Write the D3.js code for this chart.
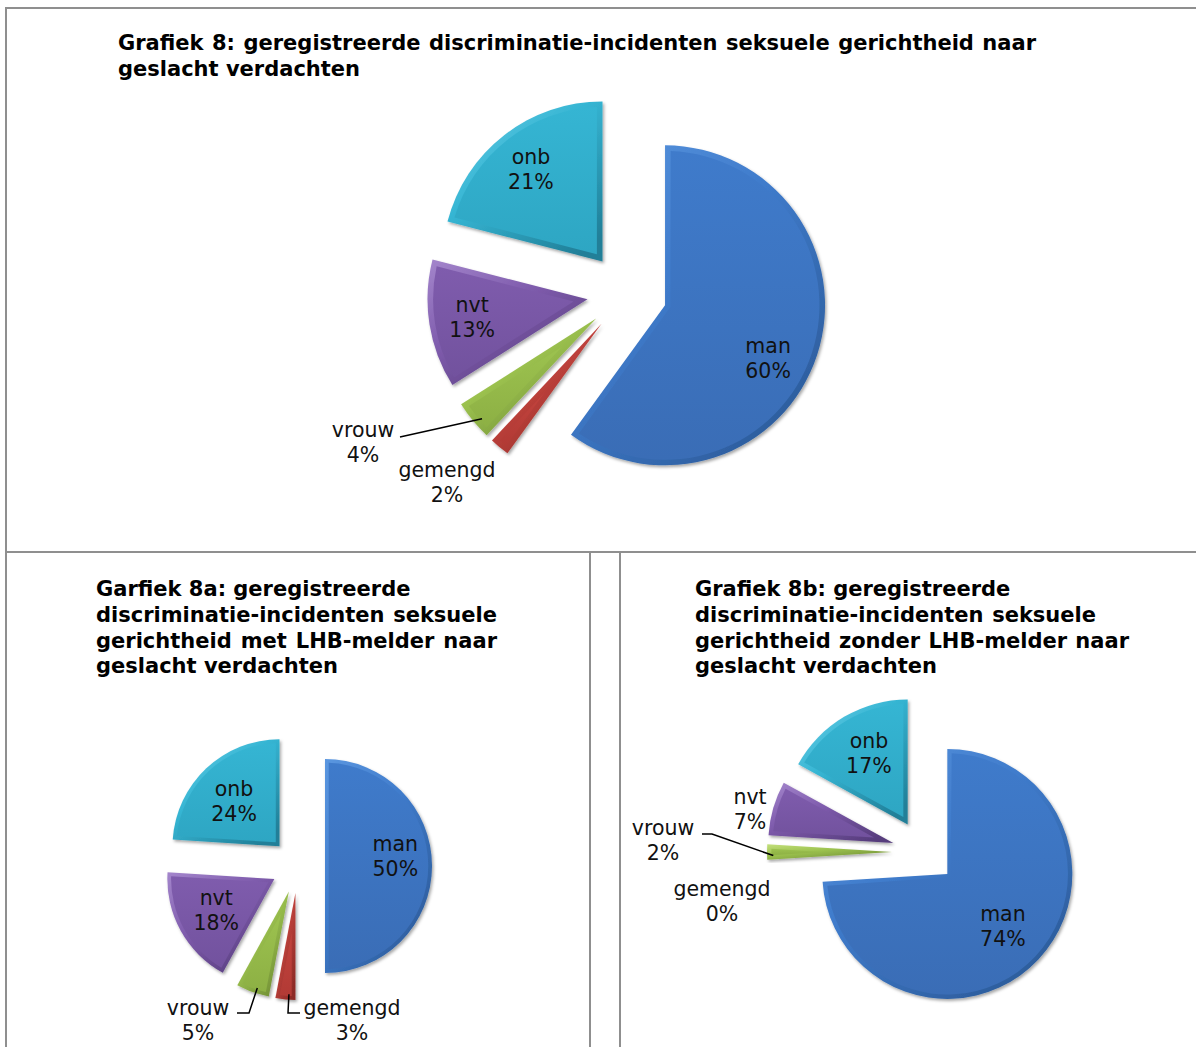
<!DOCTYPE html>
<html>
<head>
<meta charset="utf-8">
<script src="https://cdn.jsdelivr.net/npm/d3@7"></script>
<style>
  body { margin: 0; background: #fff; }
  svg { display: block; }
  text { font-family: 'DejaVu Sans', Verdana, sans-serif; }
</style>
</head>
<body>
<svg id="chart" width="1196" height="1047"></svg>
<script>
// data
const categories = ['man', 'gemengd', 'vrouw', 'nvt', 'onb']
const values8 = [60, 2, 4, 13, 21]
const values8a = [50, 3, 5, 18, 24]
const values8b = [74, 0, 2, 7, 17]

const title8 = [
  'Grafiek 8: geregistreerde discriminatie-incidenten seksuele gerichtheid naar',
  'geslacht verdachten',
]
const title8a = [
  'Garfiek 8a: geregistreerde',
  'discriminatie-incidenten seksuele',
  'gerichtheid met LHB-melder naar',
  'geslacht verdachten',
]
const title8b = [
  'Grafiek 8b: geregistreerde',
  'discriminatie-incidenten seksuele',
  'gerichtheid zonder LHB-melder naar',
  'geslacht verdachten',
]

// office-like palette with bevel tones
const palette = {
  man: { light: '#5b97e0', base: '#3f7bcb', low: '#3a6db6', dark: '#2b5a98' },
  gemengd: { light: '#e0726c', base: '#c2433d', low: '#b23a35', dark: '#8c2a26' },
  vrouw: { light: '#c4e07c', base: '#9cc24f', low: '#8db044', dark: '#6d8a32' },
  nvt: { light: '#a486cc', base: '#7f5cad', low: '#72529e', dark: '#563c7c' },
  onb: { light: '#6fd0e8', base: '#35b5d3', low: '#2ea6c3', dark: '#217f98' },
}

// layout of the three panels (positions relative to each pie centre)
const charts = [
  {
    values: values8, title: title8, tx: 118, ty: 50,
    tw: [918, null],
    cx: 627, cy: 293, r: 160, explode: 40, labelK: 0.73,
    nudge: { man: [-8, 17] },
    outside: {
      vrouw: { pos: [-264, 149.5], leader: [[-227, 144]] },
      gemengd: { pos: [-180, 189.5] },
    },
  },
  {
    values: values8a, title: title8a, tx: 96, ty: 596,
    tw: [311, 401, 401, null],
    cx: 298, cy: 866, r: 107, explode: 27, labelK: 0.62,
    nudge: { man: [4, -10], onb: [0, 4] },
    outside: {
      vrouw: { pos: [-100, 154], leader: [[-61, 147], [-49, 147]] },
      gemengd: { pos: [54, 154], leader: [[2, 147], [-10, 147]] },
    },
  },
  {
    values: values8b, title: title8b, tx: 695, ty: 596,
    tw: [311, 401, 434, null],
    cx: 924, cy: 852, r: 125, explode: 32, labelK: 0.61,
    nudge: { onb: [0, -5] },
    outside: {
      vrouw: { pos: [-261, -12], leader: [[-222, -18], [-212, -18]] },
      nvt: { pos: [-174, -42.5] },
      gemengd: { pos: [-202, 49.5] },
    },
  },
]

const svg = d3.select('#chart')
const defs = svg.append('defs')

// gradients
categories.forEach((c) => {
  const p = palette[c]
  const rim = defs.append('linearGradient').attr('id', 'rim-' + c)
    .attr('x1', 0).attr('y1', 0).attr('x2', 0.8).attr('y2', 1)
  rim.append('stop').attr('offset', '0%').attr('stop-color', p.light)
  rim.append('stop').attr('offset', '45%').attr('stop-color', p.base)
  rim.append('stop').attr('offset', '100%').attr('stop-color', p.dark)
  const fill = defs.append('linearGradient').attr('id', 'fill-' + c)
    .attr('x1', 0).attr('y1', 0).attr('x2', 0).attr('y2', 1)
  fill.append('stop').attr('offset', '0%').attr('stop-color', p.base)
  fill.append('stop').attr('offset', '100%').attr('stop-color', p.low)
})

const shadow = defs.append('filter').attr('id', 'shadow')
  .attr('x', '-20%').attr('y', '-20%').attr('width', '140%').attr('height', '140%')
shadow.append('feDropShadow').attr('dx', 1.5).attr('dy', 2)
  .attr('stdDeviation', 1.8).attr('flood-color', '#000').attr('flood-opacity', 0.35)

// table borders
const borders = svg.append('g').attr('stroke', '#8f8f8f').attr('stroke-width', 2)
borders.append('line').attr('x1', 6).attr('x2', 1196).attr('y1', 8).attr('y2', 8)
borders.append('line').attr('x1', 6).attr('x2', 6).attr('y1', 7).attr('y2', 1047)
borders.append('line').attr('x1', 6).attr('x2', 1196).attr('y1', 552).attr('y2', 552)
borders.append('line').attr('x1', 590).attr('x2', 590).attr('y1', 552).attr('y2', 1047)
borders.append('line').attr('x1', 620).attr('x2', 620).attr('y1', 552).attr('y2', 1047)

const pie = d3.pie().sort(null).value((d) => d.value)
const pt = (a, R) => [Math.sin(a) * R, -Math.cos(a) * R]

// bevel-inset sector path, apex at origin
function insetPath(a0, a1, r, b) {
  const half = (a1 - a0) / 2
  const mid = a0 + half
  const ro = r - b
  const d = Math.min(Math.asin(b / ro), half * 0.6)
  const apexDist = Math.min(b / Math.sin(half), ro * 0.7)
  const ap = pt(mid, half >= Math.PI / 2 ? b : apexDist)
  const p0 = pt(a0 + d, ro)
  const p1 = pt(a1 - d, ro)
  const large = a1 - a0 - 2 * d > Math.PI ? 1 : 0
  return `M${ap[0]},${ap[1]}L${p0[0]},${p0[1]}A${ro},${ro} 0 ${large} 1 ${p1[0]},${p1[1]}Z`
}

charts.forEach((ch) => {
  // title, words spread a little like the justified original
  const tg = svg.append('g')
  ch.title.forEach((line, i) => {
    const t = tg.append('text')
      .attr('x', ch.tx).attr('y', ch.ty + i * 25.8)
      .attr('font-size', '21px').attr('font-weight', 'bold').attr('fill', '#000')
      .text(line)
    const target = ch.tw[i]
    if (target) {
      const n = line.split(' ').length - 1
      const len = t.node().getComputedTextLength()
      if (n > 0 && target > len) t.attr('word-spacing', (target - len) / n)
    }
  })

  const data = categories.map((c, i) => ({ name: c, value: ch.values[i] }))
  const arcs = pie(data)
  const arc = d3.arc().innerRadius(0).outerRadius(ch.r)
  const bevel = ch.r * 0.035

  const g = svg.append('g').attr('transform', `translate(${ch.cx},${ch.cy})`)

  // slices
  arcs.forEach((d) => {
    if (d.value <= 0) return
    const mid = (d.startAngle + d.endAngle) / 2
    const off = pt(mid, ch.explode)
    const sg = g.append('g').attr('transform', `translate(${off[0]},${off[1]})`)
    sg.append('path').attr('d', arc(d))
      .attr('fill', `url(#rim-${d.data.name})`)
      .attr('filter', 'url(#shadow)')
    sg.append('path').attr('d', insetPath(d.startAngle, d.endAngle, ch.r, bevel))
      .attr('fill', `url(#fill-${d.data.name})`)
  })

  // labels
  arcs.forEach((d) => {
    const mid = (d.startAngle + d.endAngle) / 2
    const off = pt(mid, ch.explode)
    const out = ch.outside[d.data.name]
    let lx, ly
    if (out) {
      ;[lx, ly] = out.pos
      if (out.leader) {
        const edge = pt(mid - 0.03, ch.r * 0.95)
        const pts = out.leader.concat([[off[0] + edge[0], off[1] + edge[1]]])
        g.append('path')
          .attr('d', d3.line()(pts))
          .attr('fill', 'none').attr('stroke', '#000').attr('stroke-width', 1.5)
      }
    } else {
      const p = pt(mid, ch.r * ch.labelK)
      const nd = ch.nudge[d.data.name] || [0, 0]
      lx = off[0] + p[0] + nd[0]
      ly = off[1] + p[1] + nd[1]
    }
    const t = g.append('text')
      .attr('text-anchor', 'middle').attr('font-size', '20.5px').attr('fill', '#111')
    t.append('tspan').attr('x', lx).attr('y', ly - 12.5).attr('dominant-baseline', 'central').text(d.data.name)
    t.append('tspan').attr('x', lx).attr('y', ly + 12.5).attr('dominant-baseline', 'central').text(d.value + '%')
  })
})
</script>
</body>
</html>
